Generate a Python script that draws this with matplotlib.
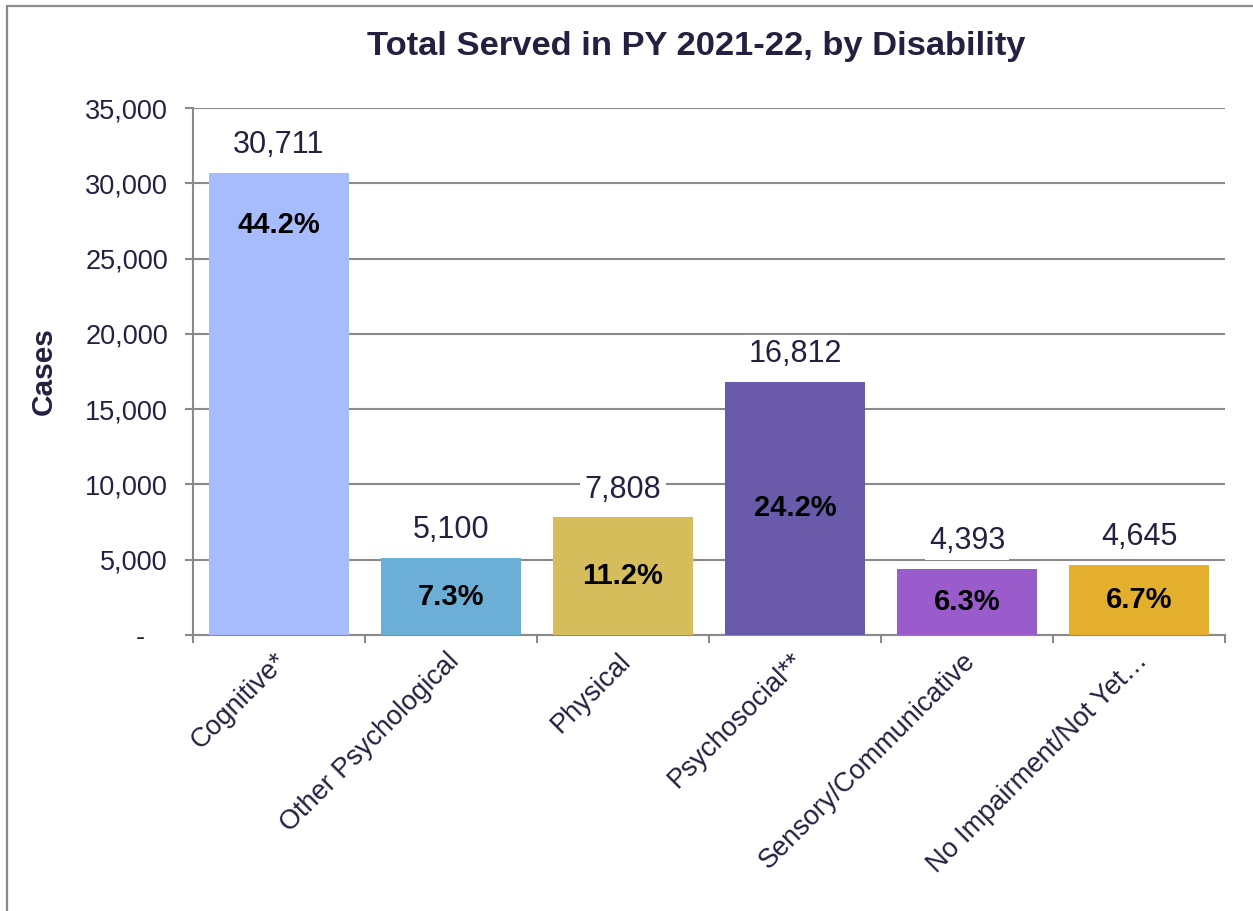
import matplotlib

matplotlib.use("Agg")

import matplotlib.pyplot as plt
import numpy as np
from matplotlib.patches import Rectangle
from matplotlib.ticker import FuncFormatter, MultipleLocator

categories = [
    "Cognitive*",
    "Other Psychological",
    "Physical",
    "Psychosocial**",
    "Sensory/Communicative",
    "No Impairment/Not Yet\u2026",
]
cases = [30711, 5100, 7808, 16812, 4393, 4645]
shares = ["44.2%", "7.3%", "11.2%", "24.2%", "6.3%", "6.7%"]
bar_colors = ["#A6BCFC", "#6BAED6", "#D6BD5C", "#6A5AAA", "#9B5CCB", "#E4AF2D"]

TEXT = "#24203F"
GRID = "#8A8A8A"

plt.rcParams["font.family"] = ["Liberation Sans", "DejaVu Sans"]

fig = plt.figure(figsize=(12.53, 9.11), dpi=100)
ax = fig.add_axes([193 / 1253, 1 - 635 / 911, (1225 - 193) / 1253, (635 - 108) / 911])

x = np.arange(len(categories))
ax.bar(x, cases, width=0.81, color=bar_colors, zorder=3)

ax.set_xlim(-0.5, len(categories) - 0.5)
ax.set_ylim(0, 35000)
ax.yaxis.set_major_locator(MultipleLocator(5000))
ax.yaxis.set_major_formatter(FuncFormatter(lambda v, _: "-   " if v == 0 else f"{v:,.0f}"))
ax.grid(axis="y", color=GRID, linewidth=1.5, zorder=0)

ax.set_xticks(np.arange(-0.5, len(categories), 1.0))
ax.set_xticklabels([])
for i, name in enumerate(categories):
    ax.annotate(name, (i, 0), xytext=(3, -16), textcoords="offset points",
                rotation=45, rotation_mode="anchor", ha="right", va="center",
                fontsize=19.5, color=TEXT)

for side in ("top", "right"):
    ax.spines[side].set_visible(False)
for side in ("left", "bottom"):
    ax.spines[side].set_color(GRID)
    ax.spines[side].set_linewidth(1.5)
ax.tick_params(axis="both", colors=GRID, width=1.5, length=6)
ax.tick_params(axis="y", labelsize=19.5, labelcolor=TEXT, pad=12)

ax.set_ylabel("Cases", fontsize=21.5, fontweight="bold", color=TEXT, labelpad=20)

for i, (val, pct) in enumerate(zip(cases, shares)):
    ax.annotate(f"{val:,}", (i, val), xytext=(0, 20), textcoords="offset points",
                ha="center", va="center", fontsize=22, color=TEXT, zorder=4,
                bbox={"facecolor": "white", "edgecolor": "none", "pad": 3})
    if i == 0:
        # first label sits near the top of the tall bar
        ax.annotate(pct, (i, val), xytext=(0, -38), textcoords="offset points",
                    ha="center", va="center", fontsize=21, fontweight="bold", color="black", zorder=4)
    else:
        ax.text(i, val / 2, pct, ha="center", va="center", fontsize=21,
                fontweight="bold", color="black", zorder=4)

fig.text(696 / 1253, 1 - 46 / 911, "Total Served in PY 2021-22, by Disability",
         ha="center", va="center", fontsize=24.8, fontweight="bold", color=TEXT)

fig.patches.append(Rectangle((7 / 1253, -0.1), 1.2, 1 - 6 / 911 + 0.1, transform=fig.transFigure,
                             fill=False, edgecolor="#8C8C8C", linewidth=1.6))

fig.savefig("out.png", dpi=100)
